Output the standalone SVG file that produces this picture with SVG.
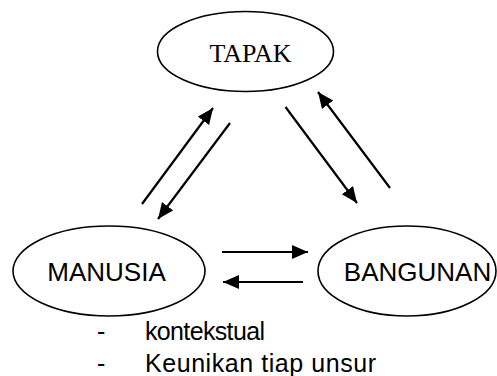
<svg xmlns="http://www.w3.org/2000/svg" width="497" height="376" viewBox="0 0 497 376">
<style>
.node{fill:#fff;stroke:#000;stroke-width:1.6}
.serif{font-family:"Liberation Serif","Times New Roman",serif;fill:#000}
.sans{font-family:"Liberation Sans",Arial,sans-serif;fill:#000}
.conn{stroke:#000;stroke-width:2.2;fill:none;marker-end:url(#ah)}
</style>
<defs>
<marker id="ah" markerUnits="userSpaceOnUse" markerWidth="17" markerHeight="15" refX="16" refY="7" orient="auto">
<path d="M0,0 L16,7 L0,14 Z" fill="#000"/>
</marker>
</defs>
<rect width="497" height="376" fill="#fff"/>
<g id="tapak">
<ellipse class="node" cx="245.5" cy="51.5" rx="88" ry="40"/>
<text class="serif" x="250.5" y="62" font-size="26" text-anchor="middle">TAPAK</text>
</g>
<g id="manusia">
<ellipse class="node" cx="109" cy="271" rx="96" ry="45"/>
<text class="sans" x="106.5" y="281" font-size="26" text-anchor="middle">MANUSIA</text>
</g>
<g id="bangunan">
<ellipse class="node" cx="407" cy="271" rx="89" ry="45"/>
<text class="sans" x="417.5" y="281" font-size="26" text-anchor="middle">BANGUNAN</text>
</g>
<g id="connectors">
<line class="conn" x1="142" y1="204" x2="213" y2="108"/>
<line class="conn" x1="230" y1="123" x2="158" y2="219"/>
<line class="conn" x1="285.5" y1="107" x2="357" y2="203"/>
<line class="conn" x1="390" y1="188" x2="318" y2="92"/>
<line class="conn" x1="222" y1="252" x2="308" y2="252"/>
<line class="conn" x1="303" y1="282" x2="223" y2="282"/>
</g>
<g id="notes">
<text class="sans" x="97" y="340" font-size="25">-</text>
<text class="sans" x="145" y="340" font-size="25" textLength="120">kontekstual</text>
<text class="sans" x="97" y="372" font-size="25">-</text>
<text class="sans" x="145" y="372" font-size="25" textLength="231">Keunikan tiap unsur</text>
</g>
</svg>
